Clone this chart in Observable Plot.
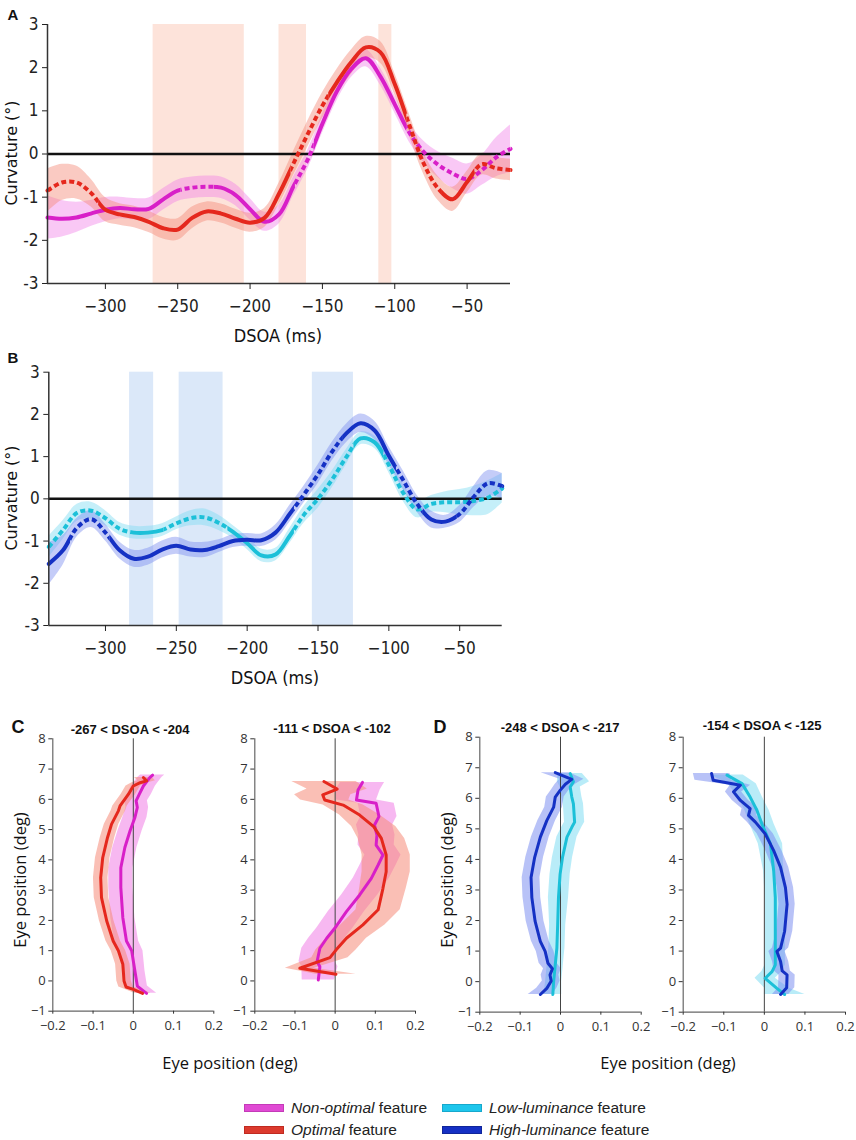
<!DOCTYPE html>
<html><head><meta charset="utf-8">
<script src="https://cdn.jsdelivr.net/npm/d3@7"></script>
<script src="https://cdn.jsdelivr.net/npm/@observablehq/plot@0.6"></script>
<style>
body{margin:0;background:#fff;}
#root{position:relative;width:856px;height:1140px;overflow:hidden;font-family:"Liberation Sans",Arial,sans-serif;color:#111;}
.lbl{position:absolute;white-space:nowrap;transform:translate(-50%,-50%);line-height:1;}
.rot{transform:translate(-50%,-50%) rotate(-90deg);}
svg{overflow:visible;}
</style></head><body><div id="root"></div>
<script>
// ---------- DATA ----------
// Panels A/B: DSOA grid (ms)
const dsoa = [-340,-330,-320,-310,-300,-290,-280,-270,-260,-250,-240,-230,-220,-210,-200,-190,-180,-170,-160,-150,-140,-130,-120,-110,-100,-90,-80,-70,-60,-50,-40,-30,-20];
const dsoaTicks = [-300,-250,-200,-150,-100,-50];
const curvTicks = [-3,-2,-1,0,1,2,3];

// Panel A: Non-optimal (magenta) and Optimal (red) curvature
const aNonOpt    = [-1.47,-1.50,-1.47,-1.38,-1.29,-1.25,-1.28,-1.27,-1.05,-0.85,-0.78,-0.76,-0.78,-0.95,-1.28,-1.57,-1.40,-0.75,-0.12,0.70,1.45,1.97,2.22,1.80,1.15,0.50,0.05,-0.25,-0.45,-0.58,-0.38,-0.08,0.12];
const aNonOptErr = [0.5,0.42,0.35,0.3,0.28,0.25,0.25,0.25,0.25,0.25,0.25,0.25,0.25,0.25,0.25,0.22,0.22,0.22,0.22,0.22,0.22,0.2,0.2,0.2,0.2,0.22,0.25,0.3,0.35,0.35,0.35,0.45,0.55];
const aNonOptDash = [[-248,-225],[-169,-156],[-92,-20]];
const aOpt    = [-0.85,-0.66,-0.66,-0.90,-1.29,-1.40,-1.46,-1.57,-1.72,-1.75,-1.48,-1.33,-1.38,-1.50,-1.59,-1.48,-0.92,-0.22,0.47,1.12,1.66,2.13,2.47,2.36,1.62,0.68,-0.22,-0.80,-1.05,-0.65,-0.24,-0.33,-0.37];
const aOptErr = [0.5,0.42,0.38,0.32,0.28,0.25,0.25,0.25,0.25,0.25,0.25,0.22,0.22,0.22,0.22,0.22,0.25,0.28,0.3,0.3,0.3,0.28,0.25,0.25,0.25,0.25,0.25,0.28,0.28,0.25,0.25,0.25,0.25];
const aOptDash = [[-340,-305],[-172,-146],[-92,-68],[-45,-20]];
const aShades = [[-267,-204],[-180,-161],[-111,-102]];

// Panel B: Low-luminance (cyan) and High-luminance (blue)
const bLow    = [-1.14,-0.74,-0.33,-0.28,-0.46,-0.71,-0.80,-0.80,-0.74,-0.58,-0.46,-0.44,-0.57,-0.78,-1.05,-1.34,-1.32,-0.88,-0.38,0.0,0.46,0.99,1.43,1.34,0.80,0.15,-0.25,-0.12,-0.08,-0.08,-0.05,0.03,0.25];
const bLowErr = [0.25,0.22,0.2,0.2,0.18,0.15,0.15,0.15,0.15,0.15,0.18,0.2,0.18,0.15,0.15,0.15,0.15,0.18,0.2,0.22,0.2,0.18,0.15,0.15,0.18,0.2,0.2,0.2,0.25,0.3,0.35,0.4,0.35];
const bLowDash = [[-340,-282],[-259,-214],[-167,-125],[-104,-20]];
const bHigh    = [-1.54,-1.22,-0.68,-0.48,-0.80,-1.22,-1.42,-1.37,-1.20,-1.11,-1.20,-1.21,-1.12,-1.00,-0.97,-0.98,-0.80,-0.36,0.10,0.58,1.12,1.55,1.79,1.62,1.02,0.45,-0.12,-0.49,-0.54,-0.36,0.05,0.37,0.30];
const bHighErr = [0.5,0.35,0.22,0.2,0.2,0.2,0.2,0.2,0.2,0.2,0.18,0.18,0.15,0.15,0.15,0.15,0.18,0.2,0.2,0.22,0.22,0.22,0.22,0.22,0.22,0.22,0.2,0.2,0.15,0.2,0.25,0.3,0.3];
const bHighDash = [[-325,-297],[-167,-133],[-95,-76],[-52,-20]];
const bShades = [[-283,-266],[-248,-217],[-154,-125]];

// Panels C/D: eye trajectories
const eyeXTicks = [-0.2,-0.1,0,0.1,0.2];
const eyeYTicks = [-1,0,1,2,3,4,5,6,7,8];

const cLOptX = [0.023,0.0,-0.018,-0.023,-0.026,-0.037,-0.05,-0.066,-0.079,-0.081,-0.076,-0.064,-0.054,-0.037,-0.033,-0.012,0.0,0.017,0.033,0.025];
const cLOptY = [-0.41,-0.28,-0.2,0,0.55,1.0,1.32,1.98,2.75,3.41,4.07,4.74,5.18,5.62,5.78,6.17,6.44,6.55,6.61,6.72];
const cLOptErr = [0.02,0.02,0.018,0.018,0.018,0.018,0.018,0.018,0.018,0.018,0.018,0.018,0.018,0.018,0.018,0.018,0.018,0.02,0.022,0.022];
const cLNonX = [0.033,0.010,0.004,-0.004,-0.017,-0.026,-0.031,-0.031,-0.021,-0.008,0.004,0.010,0.007,0.015,0.025,0.041,0.048];
const cLNonY = [-0.41,-0.17,0.33,1.0,1.32,2.09,3.08,3.74,4.41,4.96,5.40,5.73,5.95,6.17,6.44,6.72,6.8];
const cLNonErr = [0.025,0.025,0.025,0.028,0.03,0.03,0.03,0.03,0.03,0.03,0.03,0.028,0.028,0.03,0.03,0.03,0.03];

const cROptX = [0.002,-0.088,-0.013,0.002,0.028,0.069,0.107,0.119,0.127,0.127,0.115,0.096,0.061,0.020,-0.026,-0.031,0.005,-0.028];
const cROptY = [0.22,0.42,0.77,1.02,1.41,1.85,2.35,3.06,3.61,4.16,4.71,5.10,5.48,5.81,5.98,6.15,6.34,6.59];
const cROptErr = [0.05,0.036,0.045,0.05,0.05,0.055,0.055,0.058,0.06,0.06,0.058,0.055,0.05,0.05,0.06,0.07,0.075,0.08];
const cRNonX = [-0.042,-0.038,-0.045,-0.038,-0.021,-0.001,0.028,0.061,0.090,0.107,0.119,0.102,0.104,0.098,0.109,0.102,0.053,0.057,0.068];
const cRNonY = [0.03,0.47,0.64,1.08,1.41,1.74,2.29,2.84,3.39,3.83,4.16,4.49,4.82,5.15,5.43,5.87,5.98,6.31,6.56];
const cRNonErr = [0.04,0.045,0.045,0.045,0.045,0.045,0.045,0.045,0.045,0.045,0.045,0.045,0.045,0.045,0.045,0.045,0.05,0.055,0.055];

const dLHighX = [-0.050,-0.034,-0.023,-0.026,-0.020,-0.031,-0.038,-0.050,-0.063,-0.071,-0.073,-0.064,-0.050,-0.034,-0.017,-0.013,-0.001,0.012,0.028,-0.013];
const dLHighY = [-0.42,-0.22,0.02,0.22,0.42,0.6,0.99,1.32,1.98,2.75,3.41,4.07,4.73,5.27,5.71,6.04,6.26,6.46,6.62,6.84];
const dLHighErr = [0.03,0.025,0.022,0.022,0.022,0.022,0.022,0.022,0.022,0.022,0.022,0.022,0.022,0.022,0.022,0.022,0.022,0.025,0.03,0.035];
const dLLowX = [-0.019,-0.017,-0.013,-0.009,-0.007,-0.005,-0.001,0.005,0.016,0.028,0.035,0.032,0.028,0.024,0.032,0.024];
const dLLowY = [-0.42,0,0.55,1.1,1.87,2.75,3.52,4.07,4.73,5.05,5.22,5.82,6.04,6.37,6.54,6.81];
const dLLowErr = [0.022,0.02,0.02,0.02,0.02,0.025,0.025,0.025,0.025,0.025,0.025,0.025,0.025,0.025,0.04,0.03];

const dRHighX = [0.04,0.055,0.056,0.044,0.04,0.031,0.04,0.05,0.056,0.052,0.04,0.023,0.002,-0.022,-0.039,-0.035,-0.059,-0.076,-0.059,-0.126,-0.130];
const dRHighY = [-0.42,-0.2,0.22,0.35,0.66,0.99,1.1,1.65,2.53,3.08,3.74,4.29,4.84,5.22,5.44,5.66,5.93,6.21,6.43,6.59,6.81];
const dRHighErr = [0.02,0.02,0.02,0.02,0.02,0.02,0.02,0.02,0.02,0.02,0.02,0.02,0.02,0.02,0.02,0.02,0.02,0.02,0.025,0.045,0.045];
const dRLowX = [0.05,0.031,0.002,0.019,0.027,0.027,0.027,0.023,0.015,-0.006,-0.018,-0.035,-0.055,-0.092];
const dRLowY = [-0.42,-0.22,0.11,0.33,0.55,1.65,2.75,3.63,4.51,5.16,5.6,6.04,6.48,6.76];
const dRLowErr = [0.05,0.03,0.025,0.025,0.025,0.025,0.025,0.025,0.03,0.03,0.03,0.03,0.035,0.04];

// ---------- STYLE ----------
const COL = {
  non:  {line:"#d81fc8", band:"#f07de6", op:0.42, sw:"#e04ad4", swb:"#c43ab8"},
  opt:  {line:"#e5281d", band:"#f58a78", op:0.45, sw:"#dc3a2e", swb:"#c02a20"},
  low:  {line:"#1cc0d8", band:"#7fdcf2", op:0.45, sw:"#1ec6ec", swb:"#17a8cc"},
  high: {line:"#1531c4", band:"#7d8ff0", op:0.45, sw:"#1530c4", swb:"#10269a"}
};
const tickFont = '"Liberation Sans Narrow","DejaVu Sans Condensed","Liberation Sans",sans-serif';
const minus = d => String(d).replace("-","\u2212");

const root = document.getElementById("root");
function place(el, left, top){ el.style.position="absolute"; el.style.left=left+"px"; el.style.top=top+"px"; root.appendChild(el); }
function label(html, cx, cy, css, rot){
  const d=document.createElement("div"); d.className="lbl"+(rot?" rot":""); d.innerHTML=html;
  d.style.left=cx+"px"; d.style.top=cy+"px"; Object.assign(d.style, css||{}); root.appendChild(d);
}

function curvePanel({left, top, W, H, fl, fr, ft, fb, shades, shadeColor, series}) {
  const rows = series.map(s => dsoa.map((x,i)=>({x, y:s.y[i], lo:s.y[i]-s.err[i], hi:s.y[i]+s.err[i]})));
  const marks = [
    Plot.rect(shades, {x1:d=>d[0], x2:d=>d[1], y1:-3, y2:3, fill:shadeColor}),
    ...series.map((s,k)=>Plot.areaY(rows[k], {x:"x", y1:"lo", y2:"hi", fill:s.c.band, fillOpacity:s.c.op, curve:"catmull-rom"})),
    Plot.ruleY([0], {stroke:"#111", strokeWidth:2.5}),
    ...series.flatMap((s,k)=>[
      Plot.line(rows[k], {x:"x", y:"y", stroke:s.c.line, strokeWidth:4, curve:"catmull-rom", ariaDescription:"solid-"+k}),
      Plot.line(rows[k], {x:"x", y:"y", stroke:s.c.line, strokeWidth:4, curve:"catmull-rom", strokeDasharray:"5,3", strokeLinecap:"butt", ariaDescription:"dash-"+k})
    ]),
    Plot.ruleX([-340], {y1:-3, y2:3, stroke:"#333", strokeWidth:1.5}),
    Plot.ruleY([-3], {stroke:"#333", strokeWidth:1.5}),
    Plot.axisX({ticks:dsoaTicks, tickSize:6, tickPadding:10, label:null, fontSize:17, tickFormat:minus}),
    Plot.axisY({ticks:curvTicks, tickSize:5, tickPadding:4, label:null, fontSize:17, tickFormat:d=>String(d)})
  ];
  const svg = Plot.plot({width:W, height:H, marginLeft:fl, marginRight:W-fr, marginTop:ft, marginBottom:H-fb,
    x:{domain:[-340,-20]}, y:{domain:[-3,3]},
    style:{fontFamily:tickFont, background:"transparent", overflow:"visible", color:"#222"}, marks});
  // dashed/solid segments via clip paths built from the x scale
  const xs = svg.scale("x");
  const sx = v => xs.range[0] + (v - xs.domain[0])/(xs.domain[1]-xs.domain[0])*(xs.range[1]-xs.range[0]);
  const ns = "http://www.w3.org/2000/svg";
  const defs = document.createElementNS(ns,"defs"); svg.appendChild(defs);
  const uid = "p"+top;
  series.forEach((s,k)=>{
    const dash = s.dash.map(r=>r.slice()).sort((a,b)=>a[0]-b[0]);
    const solid = []; let cur = -400;
    dash.forEach(([a,b])=>{ if (a>cur) solid.push([cur,a]); cur=b; });
    if (cur < 0) solid.push([cur, 0]);
    const mk = (id, ranges) => {
      const cp = document.createElementNS(ns,"clipPath"); cp.setAttribute("id", id);
      ranges.forEach(([a,b])=>{
        const lo = a<=-340 ? -50 : sx(a), hi = b>=-20 ? W+50 : sx(b);
        const r = document.createElementNS(ns,"rect");
        r.setAttribute("x", lo); r.setAttribute("width", Math.max(0,hi-lo)); r.setAttribute("y", -50); r.setAttribute("height", H+100);
        cp.appendChild(r);
      });
      defs.appendChild(cp);
    };
    mk(uid+"s"+k, solid); mk(uid+"d"+k, dash);
    const gs = svg.querySelector(`[aria-description="solid-${k}"]`); if (gs) gs.setAttribute("clip-path", `url(#${uid}s${k})`);
    const gd = svg.querySelector(`[aria-description="dash-${k}"]`); if (gd) gd.setAttribute("clip-path", `url(#${uid}d${k})`);
  });
  place(svg, left, top);
}

function eyePanel({left, top, W, H, fl, fr, ft, fb, series}) {
  const data = series.map(s => s.x.map((x,i)=>({x, y:s.y[i], lo:x-s.err[i], hi:x+s.err[i]})));
  const marks = [
    ...series.map((s,k)=>Plot.areaX(data[k], {y:"y", x1:"lo", x2:"hi", fill:s.c.band, fillOpacity:0.55})),
    Plot.ruleX([0], {y1:-1, y2:8, stroke:"#444", strokeWidth:1}),
    ...series.map((s,k)=>Plot.line(data[k], {x:"x", y:"y", stroke:s.c.line, strokeWidth:3, curve:"linear"})),
    Plot.ruleX([-0.2], {y1:-1, y2:8, stroke:"#666", strokeWidth:1.2}),
    Plot.ruleY([-1], {stroke:"#666", strokeWidth:1.2}),
    Plot.axisX({ticks:eyeXTicks, tickSize:3, tickPadding:7, label:null, fontSize:13, tickFormat:d=>d===0?"0":minus(d3.format(".1f")(d))}),
    Plot.axisY({ticks:eyeYTicks, tickSize:4, tickPadding:3, label:null, fontSize:13, tickFormat:minus})
  ];
  const svg = Plot.plot({width:W, height:H, marginLeft:fl, marginRight:W-fr, marginTop:ft, marginBottom:H-fb,
    x:{domain:[-0.2,0.2]}, y:{domain:[-1,8]},
    style:{fontFamily:'"Open Sans","Liberation Sans",sans-serif', background:"transparent", overflow:"visible", color:"#333"}, marks});
  place(svg, left, top);
}

// ---------- PANEL A ----------
curvePanel({left:0, top:0, W:520, H:345, fl:47, fr:510, ft:24, fb:283, shades:aShades, shadeColor:"#fde3da",
  series:[
    {y:aNonOpt, err:aNonOptErr, dash:aNonOptDash, c:COL.non},
    {y:aOpt, err:aOptErr, dash:aOptDash, c:COL.opt}
  ]});
// ---------- PANEL B ----------
curvePanel({left:0, top:345, W:520, H:335, fl:48.3, fr:501.7, ft:26.7, fb:280, shades:bShades, shadeColor:"#dbe8f9",
  series:[
    {y:bLow, err:bLowErr, dash:bLowDash, c:COL.low},
    {y:bHigh, err:bHighErr, dash:bHighDash, c:COL.high}
  ]});

// ---------- PANELS C / D ----------
eyePanel({left:0, top:700, W:225, H:340, fl:52.3, fr:213.3, ft:38.3, fb:310.7, series:[
  {x:cLNonX, y:cLNonY, err:cLNonErr, c:COL.non},
  {x:cLOptX, y:cLOptY, err:cLOptErr, c:COL.opt}]});
eyePanel({left:220, top:700, W:205, H:340, fl:34.3, fr:195, ft:38.3, fb:310.7, series:[
  {x:cRNonX, y:cRNonY, err:cRNonErr, c:COL.non},
  {x:cROptX, y:cROptY, err:cROptErr, c:COL.opt}]});
eyePanel({left:430, top:700, W:220, H:340, fl:49.3, fr:210.7, ft:36.7, fb:311.7, series:[
  {x:dLLowX, y:dLLowY, err:dLLowErr, c:COL.low},
  {x:dLHighX, y:dLHighY, err:dLHighErr, c:COL.high}]});
eyePanel({left:650, top:700, W:206, H:340, fl:32.7, fr:195, ft:36.7, fb:311.7, series:[
  {x:dRLowX, y:dRLowY, err:dRLowErr, c:COL.low},
  {x:dRHighX, y:dRHighY, err:dRHighErr, c:COL.high}]});

// ---------- TEXT ----------
const letterCss = {fontWeight:"bold", fontSize:"15px", fontFamily:'"Liberation Sans",Arial,sans-serif'};
label("A", 13, 14, letterCss);
label("B", 13, 357, letterCss);
label("C", 18, 727, Object.assign({}, letterCss, {fontSize:"18px"}));
label("D", 440, 727, Object.assign({}, letterCss, {fontSize:"18px"}));
const yCss = {fontSize:"16px", fontFamily:'"DejaVu Sans",sans-serif', color:"#111"};
label("Curvature (°)", 12, 153, yCss, true);
label("Curvature (°)", 12, 498, yCss, true);
const xCss = {fontSize:"18px", fontFamily:tickFont, color:"#111"};
label("DSOA (ms)", 278, 336, xCss);
label("DSOA (ms)", 275, 678, xCss);
const tCss = {fontWeight:"bold", fontSize:"13px", fontFamily:'"Liberation Sans",Arial,sans-serif'};
label("-267 &lt; DSOA &lt; -204", 130, 729, tCss);
label("-111 &lt; DSOA &lt; -102", 332, 728, tCss);
label("-248 &lt; DSOA &lt; -217", 560, 727, tCss);
label("-154 &lt; DSOA &lt; -125", 762, 725, tCss);
const eCss = {fontSize:"16.5px", fontFamily:'"Open Sans",sans-serif', color:"#111"};
label("Eye position (deg)", 20, 880, eCss, true);
label("Eye position (deg)", 447, 880, eCss, true);
label("Eye position (deg)", 230, 1063, eCss);
label("Eye position (deg)", 668, 1063, eCss);

// ---------- LEGEND ----------
const legendItems = [
  {c:COL.non, it:"Non-optimal", x:244, y:1108},
  {c:COL.opt, it:"Optimal", x:244, y:1130},
  {c:COL.low, it:"Low-luminance", x:442, y:1108},
  {c:COL.high, it:"High-luminance", x:442, y:1130}
];
legendItems.forEach(d=>{
  const sw = document.createElement("div");
  Object.assign(sw.style, {width:"38px", height:"6px", background:d.c.sw, border:"1px solid "+d.c.swb});
  place(sw, d.x, d.y-4);
  const t = document.createElement("div");
  t.innerHTML = `<i>${d.it}</i> feature`;
  Object.assign(t.style, {fontSize:"15.5px", fontFamily:'"Liberation Sans",Arial,sans-serif', whiteSpace:"nowrap", lineHeight:"1", color:"#222"});
  place(t, d.x+47, d.y-8);
});
</script></body></html>
